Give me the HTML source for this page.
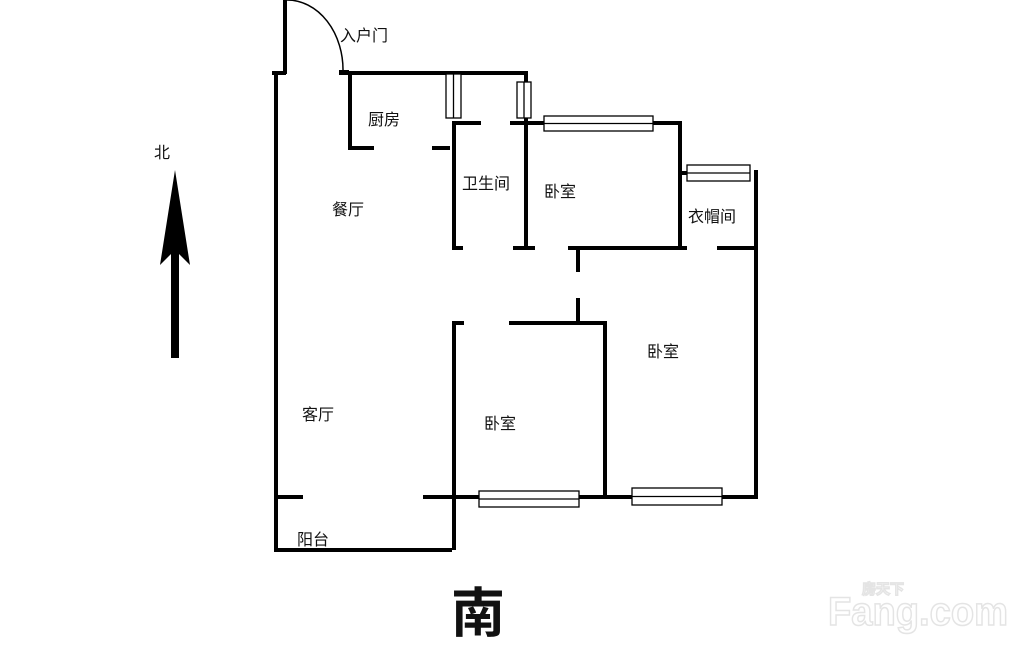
<!DOCTYPE html>
<html><head><meta charset="utf-8"><style>
html,body{margin:0;padding:0;background:#fff;}
svg{display:block;}
text{font-family:"Liberation Sans","Noto Sans CJK SC",sans-serif;fill:#111;}
</style></head><body>
<svg width="1024" height="651" viewBox="0 0 1024 651" xmlns="http://www.w3.org/2000/svg">
<g stroke="#000" stroke-width="4" fill="none" stroke-linecap="square">
<line x1="276" y1="73" x2="276" y2="550"/>
<line x1="274" y1="73" x2="284" y2="73"/>
<line x1="285" y1="0" x2="285" y2="72"/>
<line x1="343" y1="73" x2="526" y2="73"/>
<line x1="350" y1="73" x2="350" y2="148"/>
<line x1="350" y1="148" x2="372" y2="148"/>
<line x1="434" y1="148" x2="448" y2="148"/>
<line x1="454" y1="123" x2="454" y2="248"/>
<line x1="454" y1="123" x2="479" y2="123"/>
<line x1="526" y1="73" x2="526" y2="248"/>
<line x1="512" y1="123" x2="544" y2="123"/>
<line x1="653" y1="123" x2="680" y2="123"/>
<line x1="680" y1="123" x2="680" y2="248"/>
<line x1="680" y1="173" x2="687" y2="173"/>
<line x1="756" y1="172" x2="756" y2="497"/>
<line x1="454" y1="248" x2="461" y2="248"/>
<line x1="515" y1="248" x2="533" y2="248"/>
<line x1="570" y1="248" x2="685" y2="248"/>
<line x1="719" y1="248" x2="756" y2="248"/>
<line x1="578" y1="250" x2="578" y2="270"/>
<line x1="578" y1="300" x2="578" y2="323"/>
<line x1="511" y1="323" x2="605" y2="323"/>
<line x1="454" y1="323" x2="462" y2="323"/>
<line x1="454" y1="323" x2="454" y2="548"/>
<line x1="605" y1="323" x2="605" y2="495"/>
<line x1="276" y1="497" x2="301" y2="497"/>
<line x1="425" y1="497" x2="479" y2="497"/>
<line x1="579" y1="497" x2="632" y2="497"/>
<line x1="722" y1="497" x2="756" y2="497"/>
<line x1="276" y1="550" x2="450" y2="550"/>
</g>
<path d="M287 0 A56 70 0 0 1 343 72" stroke="#000" stroke-width="1.5" fill="none"/>
<rect x="339" y="70" width="10" height="5" fill="#000"/>
<g stroke="#000" stroke-width="1.3" fill="#fff">
<rect x="446" y="74" width="15" height="44"/><line x1="453.5" y1="74" x2="453.5" y2="118"/>
<rect x="517" y="82" width="14" height="36"/><line x1="524" y1="82" x2="524" y2="118"/>
<rect x="544" y="116" width="109" height="15"/><line x1="544" y1="123.5" x2="653" y2="123.5"/>
<rect x="687" y="165" width="63" height="16"/><line x1="687" y1="173" x2="750" y2="173"/>
<rect x="479" y="491" width="100" height="16"/><line x1="479" y1="499" x2="579" y2="499"/>
<rect x="632" y="488" width="90" height="17"/><line x1="632" y1="496.5" x2="722" y2="496.5"/>
</g>
<g font-size="16">
<text x="340" y="41">入户门</text>
<text x="368" y="125">厨房</text>
<text x="332" y="215">餐厅</text>
<text x="462" y="189">卫生间</text>
<text x="544" y="197">卧室</text>
<text x="688" y="222">衣帽间</text>
<text x="647" y="357">卧室</text>
<text x="302" y="420">客厅</text>
<text x="484" y="429">卧室</text>
<text x="297" y="545">阳台</text>
<text x="154" y="158">北</text>
</g>
<polygon points="175,170 190,265 175,250 160,265" fill="#000"/>
<rect x="171" y="250" width="8" height="108" fill="#000"/>
<text x="451" y="632" font-size="54" font-weight="bold" fill="#000">南</text>
<g font-weight="bold" style="fill:#fff" stroke="#e4e4e4" stroke-width="1.5">
<text x="828" y="625" font-size="40" textLength="180" lengthAdjust="spacingAndGlyphs" style="fill:#fff">Fang.com</text>
<text x="862" y="594" font-size="14" style="fill:#fff">房天下</text>
</g>
</svg>
</body></html>
